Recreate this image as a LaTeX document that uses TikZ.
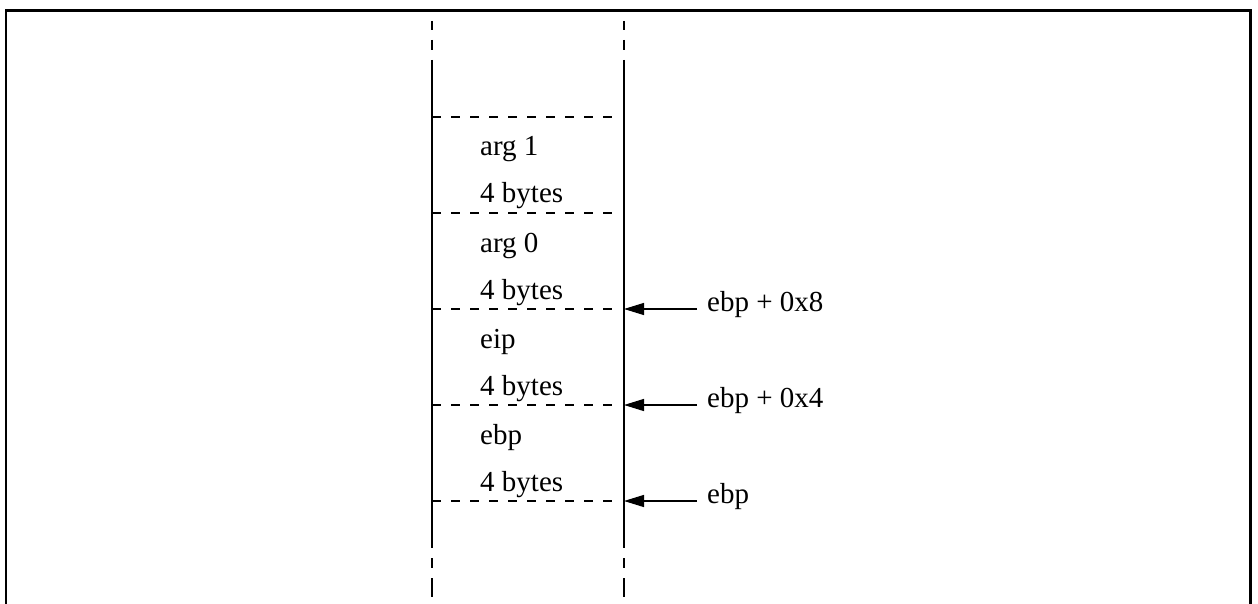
\documentclass[tikz,border=0pt]{standalone}
\usepackage{fontspec}
\setmainfont{Liberation Serif}
\usetikzlibrary{arrows.meta}
\begin{document}
\begin{tikzpicture}[x=1pt,y=-1pt,
  wall/.style={line width=1.3pt},
  slot/.style={line width=1.3pt, dash pattern=on 9pt off 10pt},
  txt/.style={anchor=base west, inner sep=0pt, font=\fontsize{29}{34}\selectfont},
  ptr/.style={line width=1.3pt, -{Triangle[length=20pt,width=12pt]}},
]
\useasboundingbox (0,0) rectangle (1258,604);
% outer frame (open at the bottom)
\draw[line width=2.5pt] (6.2,640) -- (6.2,10.3) -- (1250.7,10.3) -- (1250.7,640);

% stack walls, solid in the middle with broken ends
\foreach \x in {432,624}{
  \draw[wall] (\x,60) -- (\x,548);
  \draw[wall] (\x,21) -- (\x,30) (\x,40) -- (\x,50)
              (\x,558) -- (\x,568) (\x,578) -- (\x,597);
}

% slot boundaries
\foreach \y in {117,213,309,405,501}{
  \draw[slot] (432,\y) -- (615,\y);
}

% slot contents
\node[txt] (a1)  at (480,156) {arg 1};
\node[txt] (a1s) at (480,203) {4 bytes};
\node[txt] (a0)  at (480,252) {arg 0};
\node[txt] (a0s) at (480,299) {4 bytes};
\node[txt] (ip)  at (480,348) {eip};
\node[txt] (ips) at (480,395) {4 bytes};
\node[txt] (bp)  at (480,444) {ebp};
\node[txt] (bps) at (480,491) {4 bytes};

% frame pointer offsets
\node[txt] (o8) at (707,311) {ebp + 0x8};
\node[txt] (o4) at (707,407) {ebp + 0x4};
\node[txt] (o0) at (707,503) {ebp};

\coordinate (t8) at (697,309); \coordinate (h8) at (624,309);
\coordinate (t4) at (697,405); \coordinate (h4) at (624,405);
\coordinate (t0) at (697,501); \coordinate (h0) at (624,501);
\draw[ptr] (t8) -- (h8);
\draw[ptr] (t4) -- (h4);
\draw[ptr] (t0) -- (h0);
\end{tikzpicture}
\end{document}
